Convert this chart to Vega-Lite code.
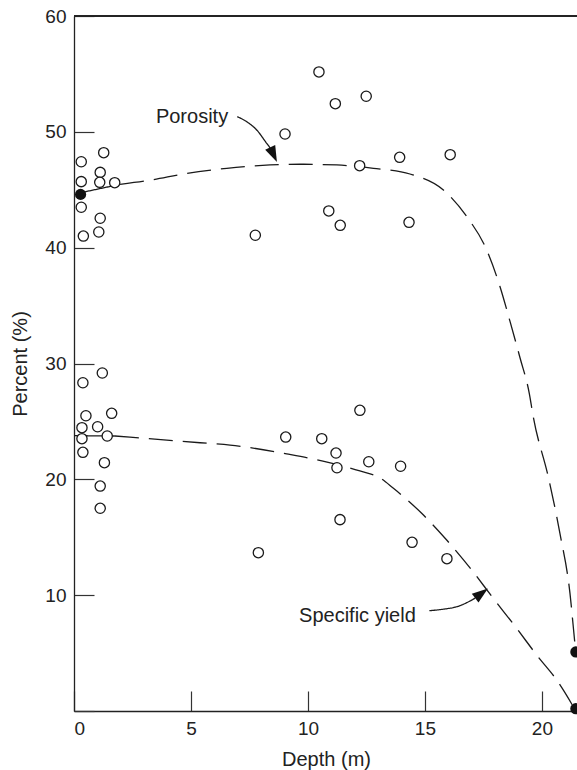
{
  "$schema": "https://vega.github.io/schema/vega-lite/v6.json",
  "width": 503,
  "height": 695,
  "autosize": {"type": "none"},
  "padding": {"left": 74, "top": 16, "right": 0, "bottom": 59},
  "background": "white",
  "config": {
    "view": {"stroke": null},
    "font": "Liberation Sans",
    "axis": {
      "grid": false,
      "domainColor": "#222",
      "domainWidth": 1.3,
      "tickColor": "#333",
      "tickWidth": 1.2,
      "tickSize": -20,
      "labelFont": "Liberation Sans",
      "labelFontSize": 19,
      "labelColor": "#222",
      "labelPadding": 28,
      "titleFont": "Liberation Sans",
      "titleFontSize": 20,
      "titleFontWeight": "normal",
      "titleColor": "#222"
    }
  },
  "datasets": {
    "curves": [
      {"curve": "P0", "style": "solid", "depth": 0.30, "pct": 44.75},
      {"curve": "P0", "style": "solid", "depth": 1.97, "pct": 45.47},
      {"curve": "P", "style": "dashed", "depth": 1.97, "pct": 45.47},
      {"curve": "P", "style": "dashed", "depth": 3.32, "pct": 45.84},
      {"curve": "P", "style": "dashed", "depth": 4.67, "pct": 46.36},
      {"curve": "P", "style": "dashed", "depth": 6.53, "pct": 46.85},
      {"curve": "P", "style": "dashed", "depth": 8.38, "pct": 47.14},
      {"curve": "P", "style": "dashed", "depth": 9.66, "pct": 47.2},
      {"curve": "P", "style": "dashed", "depth": 11.23, "pct": 47.14},
      {"curve": "P", "style": "dashed", "depth": 12.8, "pct": 46.85},
      {"curve": "P", "style": "dashed", "depth": 14.36, "pct": 46.36},
      {"curve": "P", "style": "dashed", "depth": 15.79, "pct": 44.98},
      {"curve": "P", "style": "dashed", "depth": 16.79, "pct": 42.68},
      {"curve": "P", "style": "dashed", "depth": 17.64, "pct": 39.8},
      {"curve": "P", "style": "dashed", "depth": 18.21, "pct": 36.63},
      {"curve": "P", "style": "dashed", "depth": 18.64, "pct": 33.61},
      {"curve": "P", "style": "dashed", "depth": 19.07, "pct": 30.45},
      {"curve": "P", "style": "dashed", "depth": 19.46, "pct": 27.43},
      {"curve": "P", "style": "dashed", "depth": 19.63, "pct": 25.41},
      {"curve": "P", "style": "dashed", "depth": 20.27, "pct": 20.23},
      {"curve": "P", "style": "dashed", "depth": 20.77, "pct": 15.34},
      {"curve": "P", "style": "dashed", "depth": 21.2, "pct": 10.16},
      {"curve": "P", "style": "dashed", "depth": 21.41, "pct": 5.84},
      {"curve": "P", "style": "dashed", "depth": 21.45, "pct": 5.1},
      {"curve": "S0", "style": "solid", "depth": 0.0, "pct": 23.77},
      {"curve": "S0", "style": "solid", "depth": 1.75, "pct": 23.74},
      {"curve": "S", "style": "dashed", "depth": 1.75, "pct": 23.74},
      {"curve": "S", "style": "dashed", "depth": 5.39, "pct": 23.16},
      {"curve": "S", "style": "dashed", "depth": 6.67, "pct": 22.96},
      {"curve": "S", "style": "dashed", "depth": 9.09, "pct": 22.19},
      {"curve": "S", "style": "dashed", "depth": 10.64, "pct": 21.58},
      {"curve": "S", "style": "dashed", "depth": 12.22, "pct": 20.72},
      {"curve": "S", "style": "dashed", "depth": 13.08, "pct": 20.12},
      {"curve": "S", "style": "dashed", "depth": 13.64, "pct": 19.25},
      {"curve": "S", "style": "dashed", "depth": 14.86, "pct": 17.07},
      {"curve": "S", "style": "dashed", "depth": 15.93, "pct": 14.76},
      {"curve": "S", "style": "dashed", "depth": 17.0, "pct": 12.17},
      {"curve": "S", "style": "dashed", "depth": 17.92, "pct": 9.73},
      {"curve": "S", "style": "dashed", "depth": 18.92, "pct": 7.14},
      {"curve": "S", "style": "dashed", "depth": 19.83, "pct": 4.69},
      {"curve": "S", "style": "dashed", "depth": 20.63, "pct": 2.68},
      {"curve": "S", "style": "dashed", "depth": 21.45, "pct": 0.0},
      {"curve": "AP", "style": "solid", "depth": 6.98, "pct": 51.31},
      {"curve": "AP", "style": "solid", "depth": 7.4, "pct": 50.85},
      {"curve": "AP", "style": "solid", "depth": 7.81, "pct": 50.16},
      {"curve": "AP", "style": "solid", "depth": 8.24, "pct": 49.0},
      {"curve": "AP", "style": "solid", "depth": 8.39, "pct": 48.6},
      {"curve": "AS", "style": "solid", "depth": 15.19, "pct": 8.66},
      {"curve": "AS", "style": "solid", "depth": 15.86, "pct": 8.81},
      {"curve": "AS", "style": "solid", "depth": 16.36, "pct": 9.0},
      {"curve": "AS", "style": "solid", "depth": 16.93, "pct": 9.5},
      {"curve": "AS", "style": "solid", "depth": 17.15, "pct": 9.75}
    ],
    "open": [
      {"depth": 0.31, "pct": 47.42}, {"depth": 1.27, "pct": 48.2}, {"depth": 0.31, "pct": 45.7},
      {"depth": 1.12, "pct": 46.5}, {"depth": 1.10, "pct": 45.64}, {"depth": 1.74, "pct": 45.61},
      {"depth": 0.31, "pct": 43.49}, {"depth": 1.12, "pct": 42.54}, {"depth": 0.40, "pct": 41.0},
      {"depth": 1.06, "pct": 41.35}, {"depth": 10.47, "pct": 55.17}, {"depth": 11.17, "pct": 52.43},
      {"depth": 12.49, "pct": 53.07}, {"depth": 9.02, "pct": 49.81}, {"depth": 12.21, "pct": 47.08},
      {"depth": 13.92, "pct": 47.8}, {"depth": 16.08, "pct": 48.03}, {"depth": 10.89, "pct": 43.17},
      {"depth": 11.38, "pct": 41.93}, {"depth": 14.32, "pct": 42.19}, {"depth": 7.75, "pct": 41.07},
      {"depth": 1.21, "pct": 29.18}, {"depth": 0.38, "pct": 28.34}, {"depth": 0.51, "pct": 25.49},
      {"depth": 1.61, "pct": 25.7}, {"depth": 0.34, "pct": 24.46}, {"depth": 1.01, "pct": 24.54},
      {"depth": 0.34, "pct": 23.51}, {"depth": 1.42, "pct": 23.74}, {"depth": 0.38, "pct": 22.33},
      {"depth": 1.30, "pct": 21.44}, {"depth": 1.12, "pct": 19.42}, {"depth": 1.12, "pct": 17.5},
      {"depth": 12.22, "pct": 25.96}, {"depth": 9.05, "pct": 23.65}, {"depth": 10.59, "pct": 23.51},
      {"depth": 11.2, "pct": 22.27}, {"depth": 11.24, "pct": 21.0}, {"depth": 12.6, "pct": 21.52},
      {"depth": 13.96, "pct": 21.13}, {"depth": 11.37, "pct": 16.52}, {"depth": 14.45, "pct": 14.56},
      {"depth": 7.88, "pct": 13.67}, {"depth": 15.94, "pct": 13.15}
    ],
    "filled": [
      {"depth": 0.28, "pct": 44.6},
      {"depth": 21.45, "pct": 5.1},
      {"depth": 21.45, "pct": 0.2}
    ],
    "heads": [
      {"arrow": "Porosity", "depth": 8.53, "pct": 48.03},
      {"arrow": "Specific yield", "depth": 17.42, "pct": 10.16}
    ],
    "labels": [
      {"label": "Porosity", "depth": 3.5, "pct": 50.8},
      {"label": "Specific yield", "depth": 9.62, "pct": 7.66}
    ]
  },
  "layer": [
    {
      "data": {"name": "filled"},
      "mark": {"type": "rule", "color": "#222", "strokeWidth": 1.3},
      "encoding": {"y": {"datum": 60, "type": "quantitative", "scale": {"domain": [0, 60], "nice": false}}}
    },
    {
      "data": {"name": "curves"},
      "mark": {"type": "line", "color": "#1a1a1a", "strokeWidth": 1.3, "interpolate": "monotone"},
      "encoding": {
        "x": {"field": "depth", "type": "quantitative", "scale": {"domain": [0, 21.5], "nice": false},
              "axis": {"title": "Depth (m)", "values": [0, 5, 10, 15, 20], "titleX": 252, "titleY": 54, "titleBaseline": "alphabetic", "titleAnchor": "middle"}},
        "y": {"field": "pct", "type": "quantitative", "scale": {"domain": [0, 60], "nice": false},
              "axis": {"title": "Percent (%)", "values": [0, 10, 20, 30, 40, 50, 60], "labelExpr": "datum.value == 0 ? '' : datum.label", "titleX": -48, "titleY": 347.5, "titleAngle": 270, "titleBaseline": "alphabetic", "titleAnchor": "middle"}},
        "detail": {"field": "curve"},
        "strokeDash": {"field": "style", "type": "nominal", "scale": {"domain": ["dashed", "solid"], "range": [[24, 10], [1, 0]]}, "legend": null}
      }
    },
    {
      "data": {"name": "open"},
      "mark": {"type": "point", "shape": "circle", "filled": false, "stroke": "#1a1a1a", "strokeWidth": 1.3, "size": 105, "opacity": 1, "fill": "white", "fillOpacity": 1},
      "encoding": {
        "x": {"field": "depth", "type": "quantitative"},
        "y": {"field": "pct", "type": "quantitative"}
      }
    },
    {
      "data": {"name": "filled"},
      "mark": {"type": "point", "shape": "circle", "filled": true, "color": "#111", "size": 125, "opacity": 1},
      "encoding": {
        "x": {"field": "depth", "type": "quantitative"},
        "y": {"field": "pct", "type": "quantitative"}
      }
    },
    {
      "data": {"name": "heads"},
      "transform": [{"filter": "datum.arrow == 'Porosity'"}],
      "mark": {"type": "point", "shape": "M-0.69,-1L0.69,-1L0,1Z", "filled": true, "color": "#111", "size": 256, "angle": 335, "opacity": 1},
      "encoding": {
        "x": {"field": "depth", "type": "quantitative"},
        "y": {"field": "pct", "type": "quantitative"}
      }
    },
    {
      "data": {"name": "heads"},
      "transform": [{"filter": "datum.arrow == 'Specific yield'"}],
      "mark": {"type": "point", "shape": "M-0.69,-1L0.69,-1L0,1Z", "filled": true, "color": "#111", "size": 256, "angle": 233, "opacity": 1},
      "encoding": {
        "x": {"field": "depth", "type": "quantitative"},
        "y": {"field": "pct", "type": "quantitative"}
      }
    },
    {
      "data": {"name": "labels"},
      "mark": {"type": "text", "align": "left", "baseline": "alphabetic", "font": "Liberation Sans", "fontSize": 20, "color": "#222"},
      "encoding": {
        "x": {"field": "depth", "type": "quantitative"},
        "y": {"field": "pct", "type": "quantitative"},
        "text": {"field": "label"}
      }
    }
  ]
}
